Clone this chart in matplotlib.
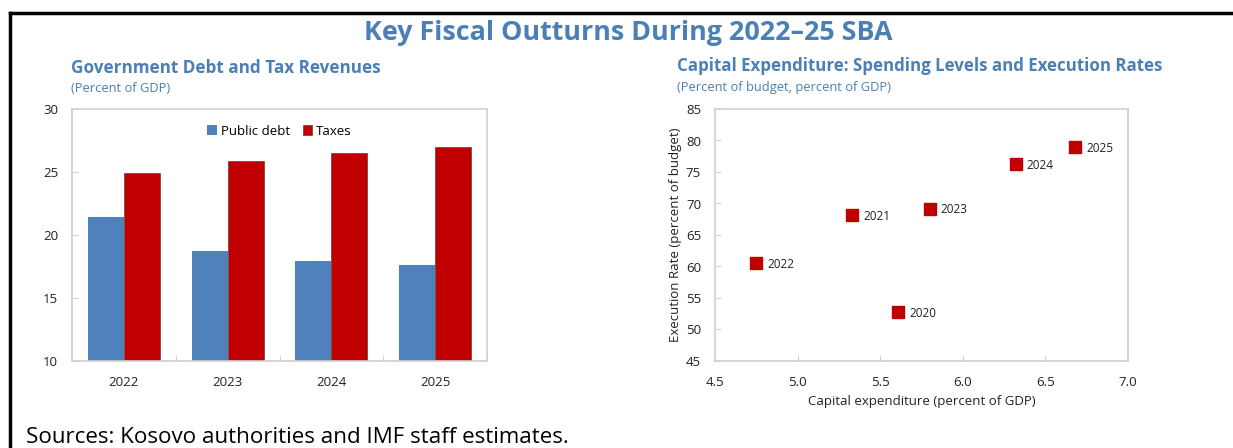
import matplotlib
matplotlib.use("Agg")
import matplotlib.pyplot as plt
import numpy as np
from matplotlib.lines import Line2D

plt.rcParams['font.family'] = ['Open Sans', 'DejaVu Sans']

# government debt and taxes, percent of GDP
years = ['2022', '2023', '2024', '2025']
public_debt = [21.4, 18.7, 17.9, 17.6]
taxes = [24.95, 25.9, 26.5, 27.0]

# capital expenditure vs execution rate
cap_years = ['2020', '2021', '2022', '2023', '2024', '2025']
cap_exp = [5.61, 5.33, 4.75, 5.80, 6.32, 6.68]
exec_rate = [52.7, 68.2, 60.5, 69.2, 76.2, 79.0]

BLUE = '#4f81bd'
RED = '#c00000'
HEAD = '#4a80b6'
GRID = '#d0d0d0'
W, H = 1233, 448

fig = plt.figure(figsize=(W / 100, H / 100), dpi=100)

# outer frame (top and left rules)
fig.add_artist(Line2D([10 / W, 1], [1 - 13 / H] * 2, color='black', lw=2.5,
                      transform=fig.transFigure))
fig.add_artist(Line2D([10 / W] * 2, [0, 1 - 13 / H], color='black', lw=2.5,
                      transform=fig.transFigure))

fig.text(628 / W, 1 - 33 / H, 'Key Fiscal Outturns During 2022\u201325 SBA',
         ha='center', va='center', fontsize=19.4, fontweight='bold', color=HEAD)


def style_axes(ax):
    for sp in ax.spines.values():
        sp.set_color(GRID)
        sp.set_linewidth(1.2)
    ax.tick_params(direction='in', color=GRID, labelsize=9.5, length=4,
                   labelcolor='#222222')
    ax.tick_params(axis='y', pad=10)
    ax.tick_params(axis='x', pad=11)


# left panel: bars
ax1 = fig.add_axes([72 / W, 1 - 361 / H, 415 / W, 252 / H])
x = np.arange(len(years))
w = 0.347
ax1.bar(x - w / 2, public_debt, w, color=BLUE, label='Public debt')
ax1.bar(x + w / 2, taxes, w, color=RED, edgecolor='#6a3a3a', linewidth=0.5,
        label='Taxes')
ax1.set_xlim(-0.5, 3.5)
ax1.set_ylim(10, 30)
ax1.set_yticks([10, 15, 20, 25, 30])
ax1.set_xticks(x)
ax1.set_xticklabels(years)
ax1.set_xticks(np.arange(-0.5, 3.6, 1), minor=True)
style_axes(ax1)
ax1.tick_params(axis='x', which='major', length=0)
ax1.tick_params(axis='x', which='minor', direction='in', color=GRID, length=4)
ax1.legend(loc='upper center', bbox_to_anchor=(0.5, 0.985), ncol=2, frameon=False,
           fontsize=9.5, handlelength=0.7, handleheight=0.7, handletextpad=0.3,
           columnspacing=1.0)

fig.text(71 / W, 1 - 68 / H, 'Government Debt and Tax Revenues',
         ha='left', va='center', fontsize=12.3, fontweight='bold', color=HEAD)
fig.text(71 / W, 1 - 89 / H, '(Percent of GDP)',
         ha='left', va='center', fontsize=9.3, color=HEAD)

# right panel: scatter
ax2 = fig.add_axes([715 / W, 1 - 361 / H, 413 / W, 252 / H])
ax2.scatter(cap_exp, exec_rate, marker='s', s=78, color=RED, zorder=3)
for cx, er, yr in zip(cap_exp, exec_rate, cap_years):
    ax2.annotate(yr, (cx, er), xytext=(8, -1), textcoords='offset points',
                 ha='left', va='center', fontsize=8.5, color='#222222')
ax2.set_xlim(4.5, 7.0)
ax2.set_ylim(45, 85)
ax2.set_xticks(np.arange(4.5, 7.01, 0.5))
ax2.set_xticklabels([f'{v:.1f}' for v in np.arange(4.5, 7.01, 0.5)])
ax2.set_yticks(np.arange(45, 86, 5))
style_axes(ax2)
ax2.set_xlabel('Capital expenditure (percent of GDP)', fontsize=9.5,
               color='#222222', labelpad=4)
ax2.set_ylabel('Execution Rate (percent of budget)', fontsize=9.5,
               color='#222222', labelpad=3)

fig.text(677 / W, 1 - 66 / H,
         'Capital Expenditure: Spending Levels and Execution Rates',
         ha='left', va='center', fontsize=12.2, fontweight='bold', color=HEAD)
fig.text(677 / W, 1 - 87 / H, '(Percent of budget, percent of GDP)',
         ha='left', va='center', fontsize=9.3, color=HEAD)

fig.text(26 / W, 1 - 437 / H,
         'Sources: Kosovo authorities and IMF staff estimates.',
         ha='left', va='center', fontsize=16.1, color='black')

fig.savefig('out.png', dpi=100)
